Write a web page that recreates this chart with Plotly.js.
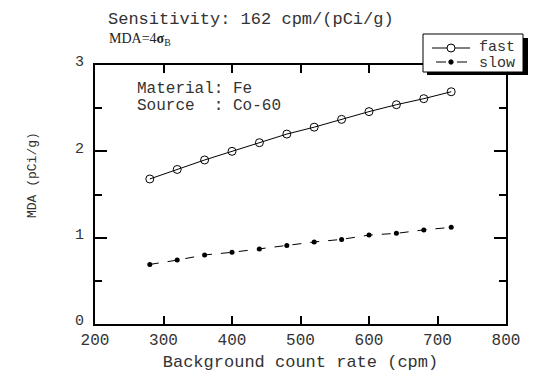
<!DOCTYPE html>
<html><head><meta charset="utf-8">
<script src="https://cdn.plot.ly/plotly-3.0.1.min.js"></script>
<style>body{margin:0;background:#fff}#c{width:539px;height:382px}</style>
</head><body><div id="c"></div>
<script>
const rates = [280,320,360,400,440,480,520,560,600,640,680,720];
const fastMDA = [1.68,1.79,1.90,2.00,2.10,2.20,2.28,2.37,2.46,2.54,2.61,2.69];
const slowMDA = [0.69,0.74,0.80,0.83,0.87,0.91,0.95,0.98,1.03,1.05,1.09,1.12];
const seriesNames = ['fast', 'slow'];

const mono = "Liberation Mono, DejaVu Sans Mono, monospace";
const serif = "Liberation Serif, DejaVu Serif, serif";
const txt = '#333';

const traces = [
  {x: rates, y: fastMDA, name: seriesNames[0], mode: 'lines+markers',
   line: {color: '#000', width: 1, dash: 'solid'},
   marker: {symbol: 'circle-open', size: 8, color: '#000', line: {width: 1, color: '#000'}}},
  {x: rates, y: slowMDA, name: seriesNames[1], mode: 'lines+markers',
   line: {color: '#000', width: 1, dash: '9px,9px'},
   marker: {symbol: 'circle', size: 5, color: '#000'}}
];

const L = 95, R = 506, T = 65, B = 324;
function px(xp){return (xp - L)/(R - L);}
function py(yp){return (B - yp)/(B - T);}

function note(x, y, text, font){
  return {xref: 'paper', yref: 'paper', x: px(x), y: py(y), xanchor: 'left', yanchor: 'middle',
    text: text, showarrow: false, font: font};
}
function rect(x0, y0, x1, y1, fill, lw){
  return {type: 'rect', xref: 'paper', yref: 'paper', x0: px(x0), x1: px(x1), y0: py(y1), y1: py(y0),
    fillcolor: fill, line: {width: lw || 0, color: '#000'}, layer: 'above'};
}
function seg(x0, y0, x1, y1, w){
  return {type: 'line', xref: 'paper', yref: 'paper', x0: px(x0), x1: px(x1), y0: py(y0), y1: py(y1),
    line: {width: w || 1, color: '#000'}, layer: 'above'};
}
function circ(cx, cy, r, fill){
  return {type: 'circle', xref: 'paper', yref: 'paper', x0: px(cx - r), x1: px(cx + r), y0: py(cy + r), y1: py(cy - r),
    fillcolor: fill, line: {width: 1, color: '#000'}, layer: 'above'};
}

// legend box (drawn by hand to match the boxed, shadowed legend)
const legendShapes = [
  rect(427, 38, 528, 75, '#000'),
  rect(423, 34, 523, 72, '#fff', 1),
  seg(432, 48, 470, 48),
  circ(451, 48, 4, '#fff'),
  seg(436, 62, 446, 62),
  seg(457, 62, 467, 62),
  circ(451, 62, 2.2, '#000')
];

const layout = {
  width: 539, height: 382,
  margin: {l: L, r: 539 - R, t: T, b: 382 - B},
  paper_bgcolor: '#fff', plot_bgcolor: '#fff',
  showlegend: false,
  xaxis: {range: [200, 800], tickmode: 'linear', tick0: 200, dtick: 100,
    ticks: 'inside', ticklen: 8, tickwidth: 2, tickcolor: '#000',
    showline: true, linecolor: '#000', linewidth: 2, mirror: 'ticks',
    showgrid: false, zeroline: false,
    tickfont: {family: mono, size: 16, color: txt},
    title: {text: 'Background count rate (cpm)', font: {family: mono, size: 17, color: txt}, standoff: 6}},
  yaxis: {range: [0, 3], tickmode: 'linear', tick0: 0, dtick: 1,
    ticks: 'inside', ticklen: 12, tickwidth: 2, tickcolor: '#000',
    showline: true, linecolor: '#000', linewidth: 2, mirror: 'ticks',
    showgrid: false, zeroline: false, ticklabelstandoff: 6, ticklabelshift: -4,
    minor: {tickmode: 'linear', tick0: 0, dtick: 0.5, ticks: 'inside', ticklen: 7, tickwidth: 2, tickcolor: '#000', showgrid: false},
    tickfont: {family: mono, size: 15, color: txt}},
  shapes: legendShapes,
  annotations: [
    note(106, 20, 'Sensitivity: 162 cpm/(pCi/g)', {family: mono, size: 17, color: txt}),
    note(107, 40, 'MDA=4<b>σ</b><sub>B</sub>', {family: serif, size: 14, color: '#222'}),
    note(135, 89, 'Material: Fe', {family: mono, size: 16, color: txt}),
    note(135, 106, 'Source  : Co-60', {family: mono, size: 16, color: txt}),
    note(477, 48, seriesNames[0], {family: mono, size: 15, color: txt}),
    note(477, 63, seriesNames[1], {family: mono, size: 15, color: txt}),
    {xref: 'paper', yref: 'paper', x: px(32), y: py(175), xanchor: 'center', yanchor: 'middle',
     text: 'MDA (pCi/g)', textangle: -90, showarrow: false, font: {family: mono, size: 13, color: txt}}
  ]
};
Plotly.newPlot('c', traces, layout, {displayModeBar: false, staticPlot: true});
</script></body></html>
